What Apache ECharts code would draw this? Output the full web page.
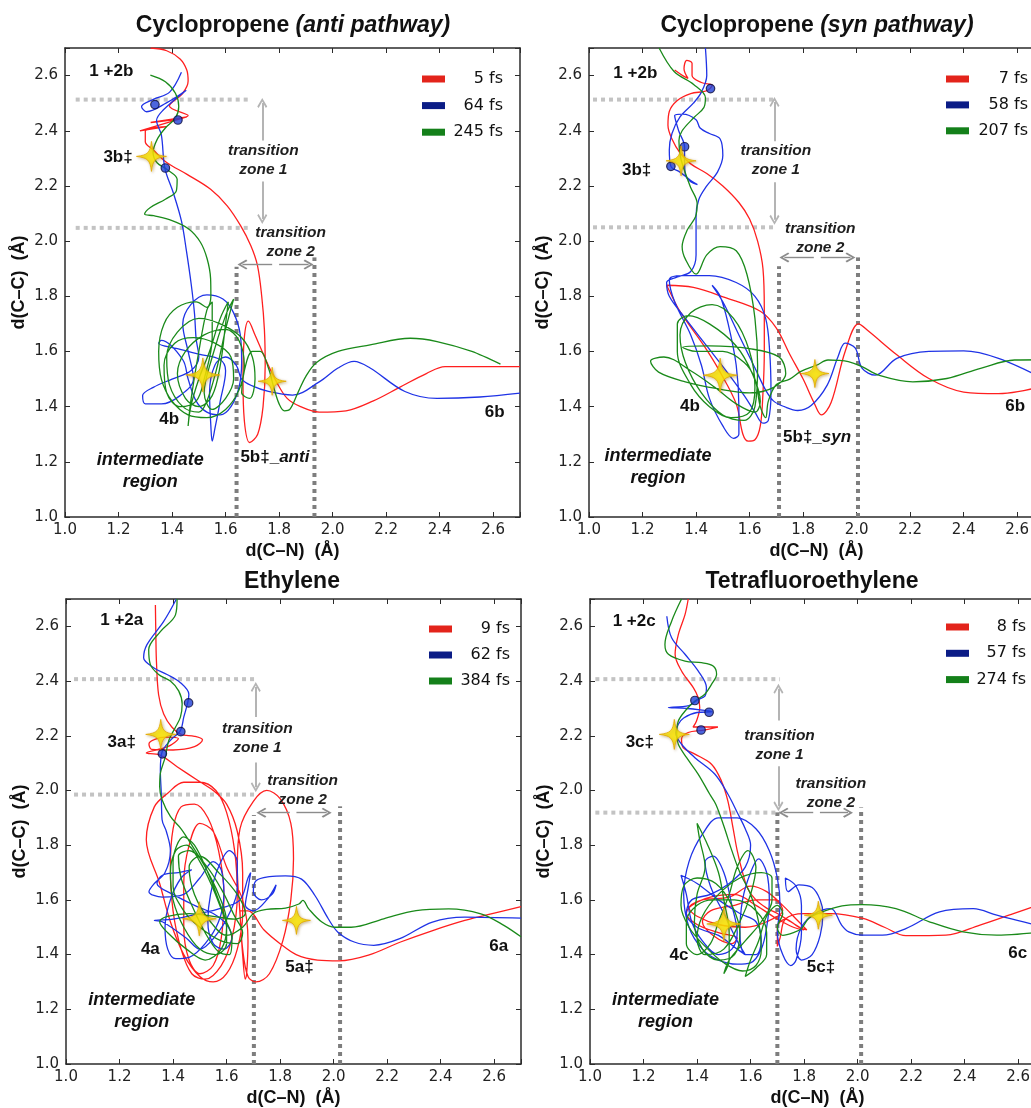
<!DOCTYPE html>
<html><head><meta charset="utf-8">
<script src="https://cdn.jsdelivr.net/npm/echarts@6/dist/echarts.min.js"></script>
<style>html,body{margin:0;padding:0;background:#fff;overflow:hidden}#c{width:1050px;height:1108px}</style>
</head><body><div id="c"></div>
<script>
// ---------------- DATA ----------------
// Cyclopropene (anti pathway)
const antiNames = ['5 fs', '64 fs', '245 fs'];
const antiRed = [[1.32,2.70],[1.38,2.69],[1.43,2.66],[1.455,2.62],[1.46,2.58],[1.44,2.536],[1.39,2.49],[1.46,2.455],[1.32,2.43],[1.455,2.45],[1.28,2.40],[1.38,2.415],[1.30,2.398],[1.30,2.36],[1.33,2.33],[1.38,2.285],[1.456,2.242],[1.544,2.188],[1.606,2.128],[1.656,2.056],[1.694,1.984],[1.719,1.912],[1.735,1.80],[1.745,1.68],[1.748,1.55],[1.74,1.40],[1.72,1.30],[1.69,1.27],[1.67,1.35],[1.665,1.50],[1.67,1.65],[1.685,1.71],[1.71,1.66],[1.75,1.57],[1.79,1.49],[1.83,1.43],[1.88,1.40],[1.95,1.38],[2.05,1.385],[2.15,1.42],[2.25,1.47],[2.35,1.52],[2.42,1.545],[2.55,1.545],[2.70,1.545]];
const antiBlue = [[1.435,2.612],[1.391,2.54],[1.33,2.514],[1.286,2.488],[1.305,2.469],[1.379,2.501],[1.453,2.547],[1.367,2.475],[1.342,2.437],[1.36,2.385],[1.373,2.265],[1.404,2.177],[1.435,2.073],[1.453,1.969],[1.472,1.84],[1.484,1.736],[1.49,1.645],[1.50,1.58],[1.47,1.53],[1.40,1.50],[1.33,1.47],[1.29,1.44],[1.30,1.41],[1.36,1.41],[1.43,1.44],[1.48,1.50],[1.46,1.60],[1.44,1.70],[1.47,1.77],[1.53,1.805],[1.59,1.79],[1.63,1.74],[1.655,1.66],[1.66,1.56],[1.65,1.47],[1.62,1.40],[1.58,1.37],[1.53,1.38],[1.49,1.42],[1.46,1.50],[1.44,1.57],[1.36,1.64],[1.35,1.63],[1.42,1.61],[1.50,1.59],[1.58,1.57],[1.60,1.53],[1.58,1.42],[1.56,1.32],[1.55,1.275],[1.545,1.33],[1.54,1.45],[1.56,1.55],[1.60,1.58],[1.64,1.55],[1.66,1.50],[1.70,1.475],[1.76,1.455],[1.85,1.442],[1.95,1.49],[2.02,1.54],[2.08,1.564],[2.14,1.54],[2.27,1.455],[2.39,1.43],[2.55,1.435],[2.70,1.449]];
const antiGreen = [[1.319,2.602],[1.375,2.578],[1.4125,2.536],[1.425,2.488],[1.4125,2.446],[1.375,2.41],[1.344,2.368],[1.329,2.32],[1.344,2.284],[1.381,2.26],[1.419,2.224],[1.416,2.182],[1.375,2.152],[1.319,2.122],[1.2975,2.098],[1.331,2.092],[1.40,2.074],[1.4625,2.044],[1.506,1.996],[1.531,1.936],[1.544,1.864],[1.545,1.80],[1.53,1.76],[1.49,1.78],[1.42,1.76],[1.37,1.70],[1.35,1.60],[1.36,1.50],[1.40,1.42],[1.46,1.37],[1.53,1.36],[1.60,1.39],[1.65,1.46],[1.67,1.55],[1.65,1.64],[1.60,1.68],[1.52,1.66],[1.45,1.60],[1.42,1.52],[1.45,1.43],[1.50,1.40],[1.55,1.44],[1.58,1.55],[1.60,1.70],[1.61,1.78],[1.58,1.72],[1.54,1.60],[1.50,1.50],[1.47,1.40],[1.46,1.33],[1.47,1.42],[1.50,1.60],[1.53,1.75],[1.55,1.78],[1.55,1.65],[1.52,1.50],[1.49,1.42],[1.43,1.40],[1.38,1.45],[1.37,1.55],[1.41,1.63],[1.48,1.65],[1.56,1.63],[1.62,1.58],[1.63,1.50],[1.60,1.43],[1.55,1.39],[1.52,1.45],[1.55,1.58],[1.60,1.73],[1.63,1.79],[1.60,1.68],[1.57,1.55],[1.53,1.42],[1.50,1.38],[1.44,1.40],[1.39,1.48],[1.38,1.58],[1.42,1.67],[1.50,1.72],[1.58,1.70],[1.66,1.65],[1.70,1.58],[1.71,1.50],[1.69,1.43],[1.66,1.45],[1.67,1.53],[1.70,1.60],[1.73,1.60],[1.76,1.54],[1.78,1.47],[1.80,1.41],[1.82,1.385],[1.84,1.39],[1.87,1.45],[1.90,1.51],[1.94,1.56],[2.02,1.60],[2.14,1.624],[2.29,1.648],[2.39,1.636],[2.52,1.60],[2.627,1.554]];
const antiStars = [[1.323,2.307,30],[1.515,1.515,34],[1.774,1.492,28]];
const antiDots = [[1.336,2.495],[1.422,2.439],[1.375,2.265]];
const antiLabels = [[1.175,2.614,'{b|1 +2b}'],[1.20,2.303,'{b|3b‡}'],[1.743,2.29,'{t|transition}\n{t|zone 1}'],[1.845,1.995,'{t|transition}\n{t|zone 2}'],[1.391,1.353,'{b|4b}'],[1.786,1.214,'{b|5b‡_}{bi|anti}'],[2.607,1.379,'{b|6b}'],[1.32,1.165,'{r|intermediate}\n{r|region}']];
const antiArrows = [[1.737,2.365,1.737,2.501,1],[1.737,2.216,1.737,2.08,1],[1.774,1.915,1.663,1.915,2],[1.80,1.915,1.91,1.915,2]];
const antiH = [[2.513,1.04,1.69],[2.048,1.04,1.69]];
const antiV = [[1.641,1.907],[1.932,1.941]];

// Cyclopropene (syn pathway)
const synNames = ['7 fs', '58 fs', '207 fs'];
const synRed = [[1.32,2.62],[1.35,2.60],[1.37,2.59],[1.355,2.625],[1.365,2.655],[1.385,2.645],[1.385,2.60],[1.42,2.575],[1.46,2.565],[1.44,2.545],[1.38,2.535],[1.33,2.51],[1.30,2.47],[1.295,2.42],[1.31,2.37],[1.34,2.32],[1.38,2.28],[1.44,2.245],[1.50,2.20],[1.56,2.14],[1.60,2.08],[1.63,2.00],[1.65,1.90],[1.655,1.75],[1.655,1.60],[1.65,1.45],[1.64,1.33],[1.62,1.28],[1.595,1.275],[1.575,1.30],[1.55,1.41],[1.49,1.525],[1.43,1.62],[1.34,1.745],[1.30,1.82],[1.29,1.84],[1.39,1.832],[1.51,1.795],[1.64,1.746],[1.70,1.685],[1.75,1.59],[1.80,1.50],[1.84,1.416],[1.868,1.37],[1.905,1.416],[1.957,1.60],[2.007,1.70],[2.045,1.673],[2.15,1.588],[2.27,1.502],[2.40,1.453],[2.53,1.447],[2.70,1.475]];
const synBlue = [[1.435,2.70],[1.44,2.60],[1.42,2.54],[1.39,2.50],[1.34,2.45],[1.31,2.39],[1.30,2.33],[1.306,2.271],[1.34,2.25],[1.38,2.22],[1.405,2.205],[1.38,2.215],[1.36,2.24],[1.357,2.30],[1.357,2.342],[1.335,2.40],[1.32,2.455],[1.35,2.46],[1.40,2.44],[1.415,2.41],[1.45,2.39],[1.49,2.37],[1.50,2.31],[1.48,2.25],[1.44,2.20],[1.41,2.15],[1.40,2.09],[1.40,2.00],[1.40,1.95],[1.38,1.89],[1.33,1.87],[1.29,1.85],[1.30,1.80],[1.36,1.72],[1.44,1.62],[1.52,1.52],[1.58,1.44],[1.62,1.38],[1.65,1.34],[1.67,1.35],[1.68,1.45],[1.675,1.60],[1.66,1.72],[1.62,1.80],[1.55,1.85],[1.45,1.875],[1.35,1.875],[1.30,1.86],[1.32,1.78],[1.38,1.66],[1.42,1.55],[1.45,1.43],[1.50,1.33],[1.54,1.285],[1.56,1.30],[1.56,1.40],[1.55,1.55],[1.52,1.70],[1.49,1.80],[1.46,1.84],[1.50,1.78],[1.56,1.66],[1.62,1.54],[1.66,1.46],[1.69,1.42],[1.73,1.40],[1.78,1.386],[1.83,1.404],[1.89,1.478],[1.93,1.58],[1.957,1.63],[1.995,1.612],[2.02,1.54],[2.07,1.514],[2.15,1.575],[2.27,1.60],[2.40,1.602],[2.53,1.575],[2.70,1.50]];
const synGreen = [[1.262,2.70],[1.318,2.615],[1.392,2.567],[1.435,2.52],[1.429,2.484],[1.392,2.448],[1.348,2.40],[1.336,2.364],[1.342,2.304],[1.361,2.244],[1.379,2.196],[1.404,2.136],[1.398,2.088],[1.367,2.04],[1.348,1.98],[1.361,1.933],[1.40,1.88],[1.44,1.95],[1.49,1.98],[1.55,1.965],[1.59,1.88],[1.62,1.72],[1.63,1.55],[1.62,1.40],[1.58,1.35],[1.50,1.37],[1.42,1.45],[1.36,1.56],[1.34,1.66],[1.38,1.74],[1.46,1.77],[1.54,1.72],[1.60,1.60],[1.62,1.47],[1.60,1.38],[1.53,1.36],[1.45,1.40],[1.38,1.48],[1.33,1.60],[1.33,1.70],[1.37,1.73],[1.45,1.70],[1.55,1.62],[1.61,1.52],[1.64,1.42],[1.62,1.38],[1.55,1.41],[1.47,1.47],[1.38,1.53],[1.28,1.58],[1.23,1.565],[1.26,1.525],[1.36,1.49],[1.48,1.465],[1.60,1.45],[1.69,1.47],[1.735,1.52],[1.71,1.58],[1.60,1.61],[1.45,1.62],[1.35,1.615],[1.40,1.60],[1.50,1.60],[1.58,1.56],[1.62,1.50],[1.64,1.40],[1.66,1.36],[1.67,1.42],[1.70,1.48],[1.75,1.50],[1.79,1.527],[1.85,1.55],[1.893,1.569],[1.93,1.568],[1.969,1.563],[2.02,1.545],[2.083,1.514],[2.21,1.49],[2.337,1.502],[2.463,1.539],[2.59,1.569],[2.70,1.57]];
const synStars = [[1.344,2.291,30],[1.49,1.514,34],[1.844,1.52,28]];
const synDots = [[1.454,2.553],[1.357,2.342],[1.306,2.271]];
const synLabels = [[1.175,2.608,'{b|1 +2b}'],[1.18,2.254,'{b|3b‡}'],[1.70,2.292,'{t|transition}\n{t|zone 1}'],[1.866,2.008,'{t|transition}\n{t|zone 2}'],[1.379,1.40,'{b|4b}'],[1.854,1.287,'{b|5b‡_}{bi|syn}'],[2.594,1.40,'{b|6b}'],[1.26,1.178,'{r|intermediate}\n{r|region}']];
const synArrows = [[1.693,2.362,1.693,2.504,1],[1.693,2.213,1.693,2.077,1],[1.84,1.941,1.73,1.941,2],[1.866,1.941,1.977,1.941,2]];
const synH = [[2.513,1.015,1.69],[2.05,1.015,1.69]];
const synV = [[1.71,1.909],[2.005,1.941]];

// Ethylene
const ethNames = ['9 fs', '62 fs', '384 fs'];
const ethRed = [[1.334,2.678],[1.336,2.55],[1.338,2.47],[1.346,2.35],[1.365,2.28],[1.396,2.231],[1.43,2.205],[1.48,2.198],[1.51,2.185],[1.48,2.16],[1.40,2.148],[1.32,2.15],[1.31,2.17],[1.37,2.195],[1.42,2.19],[1.38,2.16],[1.30,2.137],[1.35,2.13],[1.415,2.087],[1.49,2.038],[1.55,2.00],[1.60,1.95],[1.64,1.85],[1.66,1.70],[1.66,1.55],[1.64,1.42],[1.60,1.33],[1.55,1.30],[1.50,1.32],[1.44,1.40],[1.39,1.52],[1.35,1.66],[1.30,1.82],[1.33,1.94],[1.38,1.99],[1.44,2.03],[1.50,2.03],[1.56,2.00],[1.60,1.92],[1.63,1.78],[1.64,1.62],[1.62,1.46],[1.58,1.36],[1.52,1.31],[1.47,1.33],[1.43,1.42],[1.40,1.56],[1.39,1.72],[1.40,1.86],[1.43,1.94],[1.48,1.95],[1.53,1.90],[1.57,1.78],[1.59,1.62],[1.58,1.46],[1.55,1.36],[1.50,1.33],[1.46,1.38],[1.44,1.50],[1.44,1.66],[1.46,1.80],[1.50,1.88],[1.55,1.85],[1.60,1.72],[1.66,1.60],[1.68,1.45],[1.675,1.33],[1.67,1.31],[1.66,1.40],[1.65,1.55],[1.64,1.72],[1.65,1.86],[1.70,1.96],[1.75,2.00],[1.80,1.97],[1.84,1.88],[1.85,1.75],[1.84,1.60],[1.81,1.45],[1.76,1.33],[1.71,1.30],[1.68,1.32],[1.66,1.42],[1.65,1.56],[1.68,1.56],[1.74,1.49],[1.80,1.44],[1.86,1.40],[1.94,1.38],[2.02,1.377],[2.13,1.398],[2.25,1.446],[2.37,1.488],[2.49,1.525],[2.60,1.552],[2.70,1.575]];
const ethBlue = [[1.4125,2.70],[1.365,2.618],[1.3025,2.533],[1.29,2.485],[1.3275,2.449],[1.3775,2.424],[1.4275,2.394],[1.459,2.352],[1.455,2.322],[1.44,2.268],[1.4275,2.219],[1.39,2.183],[1.359,2.141],[1.3525,2.074],[1.356,1.99],[1.359,1.893],[1.375,1.85],[1.39,1.78],[1.37,1.70],[1.33,1.66],[1.31,1.63],[1.36,1.61],[1.44,1.62],[1.50,1.68],[1.55,1.74],[1.58,1.71],[1.59,1.62],[1.57,1.52],[1.52,1.44],[1.46,1.39],[1.41,1.385],[1.38,1.42],[1.37,1.50],[1.39,1.60],[1.43,1.68],[1.47,1.71],[1.42,1.70],[1.36,1.69],[1.34,1.66],[1.40,1.62],[1.48,1.58],[1.55,1.55],[1.60,1.51],[1.62,1.46],[1.59,1.42],[1.55,1.44],[1.53,1.52],[1.54,1.62],[1.57,1.72],[1.61,1.78],[1.64,1.74],[1.64,1.64],[1.61,1.55],[1.56,1.47],[1.50,1.42],[1.45,1.46],[1.36,1.52],[1.33,1.525],[1.40,1.53],[1.50,1.55],[1.58,1.57],[1.65,1.60],[1.68,1.68],[1.69,1.70],[1.68,1.64],[1.67,1.58],[1.70,1.56],[1.75,1.60],[1.785,1.655],[1.77,1.62],[1.73,1.60],[1.70,1.63],[1.71,1.67],[1.76,1.685],[1.82,1.688],[1.88,1.676],[1.93,1.616],[1.98,1.531],[2.016,1.482],[2.077,1.446],[2.15,1.434],[2.247,1.458],[2.369,1.519],[2.49,1.537],[2.70,1.533]];
const ethGreen = [[1.415,2.70],[1.409,2.642],[1.3525,2.581],[1.309,2.515],[1.315,2.461],[1.346,2.424],[1.39,2.40],[1.421,2.364],[1.434,2.316],[1.4275,2.268],[1.409,2.231],[1.384,2.183],[1.371,2.123],[1.3525,2.062],[1.35,2.014],[1.359,1.966],[1.39,1.905],[1.43,1.86],[1.47,1.80],[1.52,1.72],[1.57,1.62],[1.60,1.52],[1.60,1.44],[1.56,1.40],[1.50,1.42],[1.44,1.50],[1.40,1.60],[1.39,1.70],[1.41,1.78],[1.45,1.80],[1.50,1.74],[1.55,1.64],[1.59,1.54],[1.62,1.46],[1.61,1.40],[1.57,1.41],[1.52,1.48],[1.47,1.58],[1.43,1.68],[1.42,1.76],[1.46,1.78],[1.52,1.73],[1.58,1.64],[1.63,1.54],[1.66,1.48],[1.64,1.44],[1.58,1.45],[1.50,1.50],[1.44,1.56],[1.40,1.65],[1.40,1.74],[1.44,1.83],[1.48,1.80],[1.53,1.70],[1.57,1.60],[1.60,1.50],[1.58,1.42],[1.52,1.38],[1.45,1.42],[1.38,1.48],[1.35,1.52],[1.38,1.54],[1.46,1.55],[1.55,1.54],[1.63,1.53],[1.67,1.55],[1.64,1.62],[1.57,1.70],[1.50,1.76],[1.46,1.72],[1.48,1.62],[1.54,1.52],[1.60,1.47],[1.66,1.50],[1.70,1.55],[1.75,1.565],[1.82,1.57],[1.87,1.585],[1.885,1.598],[1.907,1.567],[1.956,1.519],[2.004,1.50],[2.065,1.50],[2.187,1.531],[2.308,1.561],[2.43,1.567],[2.55,1.549],[2.636,1.507],[2.70,1.465]];
const ethStars = [[1.354,2.205,30],[1.498,1.531,34],[1.861,1.525,28]];
const ethDots = [[1.458,2.32],[1.429,2.215],[1.36,2.134]];
const ethLabels = [[1.21,2.622,'{b|1 +2a}'],[1.21,2.173,'{b|3a‡}'],[1.717,2.188,'{t|transition}\n{t|zone 1}'],[1.886,2.0,'{t|transition}\n{t|zone 2}'],[1.317,1.416,'{b|4a}'],[1.874,1.352,'{b|5a‡}'],[2.619,1.429,'{b|6a}'],[1.285,1.19,'{r|intermediate}\n{r|region}']];
const ethArrows = [[1.709,2.269,1.709,2.378,1],[1.709,2.102,1.709,2.012,1],[1.836,1.919,1.73,1.919,2],[1.861,1.919,1.974,1.919,2]];
const ethH = [[2.407,1.03,1.71],[1.985,1.03,1.71]];
const ethV = [[1.702,1.91],[2.024,1.942]];

// Tetrafluoroethylene
const tfeNames = ['8 fs', '57 fs', '274 fs'];
const tfeRed = [[1.367,2.70],[1.355,2.643],[1.33,2.57],[1.318,2.498],[1.342,2.437],[1.386,2.376],[1.404,2.34],[1.41,2.303],[1.398,2.254],[1.385,2.232],[1.43,2.232],[1.478,2.232],[1.42,2.22],[1.367,2.212],[1.342,2.188],[1.348,2.157],[1.392,2.133],[1.454,2.096],[1.491,2.035],[1.515,1.962],[1.534,1.865],[1.55,1.78],[1.57,1.70],[1.59,1.64],[1.62,1.60],[1.66,1.57],[1.70,1.55],[1.75,1.52],[1.80,1.49],[1.76,1.50],[1.70,1.53],[1.62,1.58],[1.54,1.62],[1.45,1.61],[1.38,1.58],[1.36,1.55],[1.40,1.51],[1.48,1.48],[1.55,1.46],[1.53,1.44],[1.46,1.47],[1.42,1.52],[1.45,1.56],[1.54,1.58],[1.62,1.60],[1.69,1.60],[1.72,1.56],[1.66,1.52],[1.58,1.50],[1.48,1.51],[1.40,1.54],[1.37,1.57],[1.42,1.60],[1.52,1.61],[1.60,1.65],[1.66,1.63],[1.72,1.58],[1.77,1.53],[1.81,1.49],[1.78,1.50],[1.73,1.53],[1.70,1.50],[1.70,1.43],[1.71,1.46],[1.73,1.53],[1.80,1.55],[1.90,1.55],[2.02,1.532],[2.10,1.50],[2.18,1.469],[2.33,1.471],[2.457,1.508],[2.582,1.55],[2.70,1.59]];
const tfeBlue = [[1.287,2.637],[1.305,2.558],[1.355,2.498],[1.404,2.437],[1.435,2.376],[1.43,2.346],[1.40,2.33],[1.37,2.31],[1.293,2.303],[1.36,2.30],[1.455,2.288],[1.40,2.285],[1.35,2.265],[1.33,2.242],[1.32,2.21],[1.342,2.169],[1.392,2.12],[1.466,2.06],[1.515,1.987],[1.553,1.914],[1.58,1.86],[1.60,1.80],[1.58,1.72],[1.52,1.66],[1.45,1.62],[1.38,1.60],[1.36,1.55],[1.40,1.50],[1.48,1.47],[1.55,1.42],[1.58,1.40],[1.55,1.45],[1.50,1.55],[1.45,1.65],[1.43,1.74],[1.46,1.76],[1.50,1.70],[1.53,1.58],[1.55,1.48],[1.53,1.42],[1.48,1.40],[1.42,1.45],[1.38,1.52],[1.36,1.62],[1.34,1.69],[1.40,1.66],[1.48,1.60],[1.56,1.55],[1.62,1.52],[1.64,1.45],[1.62,1.40],[1.58,1.40],[1.56,1.48],[1.57,1.60],[1.60,1.70],[1.63,1.75],[1.66,1.70],[1.67,1.60],[1.66,1.50],[1.64,1.42],[1.60,1.37],[1.55,1.365],[1.48,1.38],[1.42,1.42],[1.37,1.50],[1.35,1.62],[1.37,1.74],[1.42,1.84],[1.48,1.90],[1.55,1.90],[1.62,1.86],[1.67,1.78],[1.70,1.68],[1.71,1.58],[1.70,1.48],[1.72,1.40],[1.75,1.36],[1.77,1.38],[1.79,1.48],[1.79,1.58],[1.77,1.65],[1.73,1.68],[1.74,1.63],[1.78,1.655],[1.83,1.645],[1.86,1.60],[1.87,1.55],[1.86,1.47],[1.83,1.40],[1.79,1.38],[1.77,1.42],[1.79,1.50],[1.84,1.55],[1.90,1.568],[1.94,1.508],[1.967,1.483],[2.017,1.471],[2.093,1.471],[2.18,1.495],[2.306,1.556],[2.432,1.568],[2.52,1.544],[2.70,1.50]];
const tfeGreen = [[1.342,2.70],[1.305,2.619],[1.28,2.534],[1.293,2.498],[1.355,2.473],[1.417,2.467],[1.46,2.455],[1.473,2.425],[1.454,2.388],[1.429,2.352],[1.392,2.327],[1.361,2.297],[1.33,2.254],[1.324,2.206],[1.33,2.169],[1.361,2.12],[1.404,2.06],[1.447,1.987],[1.47,1.95],[1.50,1.87],[1.53,1.78],[1.56,1.70],[1.60,1.62],[1.63,1.52],[1.64,1.42],[1.62,1.36],[1.57,1.34],[1.50,1.37],[1.43,1.43],[1.37,1.50],[1.34,1.58],[1.35,1.65],[1.40,1.68],[1.47,1.66],[1.53,1.58],[1.56,1.48],[1.54,1.40],[1.48,1.38],[1.42,1.42],[1.39,1.52],[1.40,1.62],[1.43,1.72],[1.41,1.82],[1.40,1.88],[1.44,1.80],[1.48,1.70],[1.50,1.60],[1.52,1.48],[1.52,1.38],[1.50,1.33],[1.52,1.38],[1.58,1.45],[1.64,1.52],[1.68,1.60],[1.68,1.68],[1.64,1.70],[1.56,1.68],[1.48,1.62],[1.42,1.54],[1.40,1.46],[1.43,1.40],[1.50,1.42],[1.56,1.52],[1.60,1.62],[1.62,1.72],[1.59,1.78],[1.55,1.72],[1.52,1.62],[1.48,1.52],[1.45,1.44],[1.40,1.40],[1.36,1.44],[1.36,1.52],[1.40,1.58],[1.46,1.60],[1.54,1.60],[1.62,1.56],[1.66,1.48],[1.66,1.40],[1.62,1.35],[1.58,1.32],[1.60,1.38],[1.63,1.45],[1.66,1.54],[1.70,1.58],[1.72,1.55],[1.70,1.50],[1.72,1.47],[1.76,1.48],[1.79,1.495],[1.817,1.532],[1.867,1.556],[1.942,1.578],[2.017,1.583],[2.143,1.568],[2.268,1.52],[2.394,1.483],[2.52,1.471],[2.70,1.485]];
const tfeStars = [[1.315,2.205,30],[1.50,1.512,34],[1.853,1.544,28]];
const tfeDots = [[1.392,2.329],[1.445,2.286],[1.415,2.221]];
const tfeLabels = [[1.167,2.615,'{b|1 +2c}'],[1.188,2.173,'{b|3c‡}'],[1.71,2.163,'{t|transition}\n{t|zone 1}'],[1.902,1.987,'{t|transition}\n{t|zone 2}'],[1.334,1.396,'{b|4c}'],[1.865,1.352,'{b|5c‡}'],[2.60,1.403,'{b|6c}'],[1.284,1.19,'{r|intermediate}\n{r|region}']];
const tfeArrows = [[1.704,2.256,1.704,2.372,1],[1.704,2.089,1.704,1.942,1],[1.834,1.919,1.723,1.919,2],[1.859,1.919,1.964,1.919,2]];
const tfeH = [[2.407,1.02,1.71],[1.919,1.02,1.71]];
const tfeV = [[1.70,1.92],[2.013,1.938]];

// ---------------- STYLE / LAYOUT ----------------
const TICK_FONT = "'DejaVu Sans', sans-serif";
const BOLD_FONT = "'Liberation Sans', Arial, sans-serif";
const LINE_COLORS = ['#ff1f1f', '#1f33e6', '#1a8a1a'];
const LEGEND_COLORS = ['#e3241b', '#0b1c86', '#14801a'];
const STAR = 'path://M0,-10 C0.9,-2.4 2.4,-0.9 10,0 C2.4,0.9 0.9,2.4 0,10 C-0.9,2.4 -2.4,0.9 -10,0 C-2.4,-0.9 -0.9,-2.4 0,-10 Z';
const CHEVRON = 'path://M5,0 L10,8 L8.6,9.2 L5,3.2 L1.4,9.2 L0,8 Z';

const panels = [
  {grid:{left:65,top:48,width:455,height:469}, title:'{b|Cyclopropene }{i|(anti pathway)}', tx:288, ty:9,
   names:antiNames, lines:[antiRed,antiBlue,antiGreen], stars:antiStars, dots:antiDots, labels:antiLabels, arrows:antiArrows, H:antiH, V:antiV,
   lg:{left:417, top:66, w:53, gap:10.6}},
  {grid:{left:589,top:48,width:455,height:469}, title:'{b|Cyclopropene }{i|(syn pathway)}', tx:812, ty:9,
   names:synNames, lines:[synRed,synBlue,synGreen], stars:synStars, dots:synDots, labels:synLabels, arrows:synArrows, H:synH, V:synV,
   lg:{left:941, top:66, w:54, gap:9.9}},
  {grid:{left:66,top:599,width:455,height:467}, title:'{b|Ethylene}', tx:287, ty:565,
   names:ethNames, lines:[ethRed,ethBlue,ethGreen], stars:ethStars, dots:ethDots, labels:ethLabels, arrows:ethArrows, H:ethH, V:ethV,
   lg:{left:424, top:616, w:53, gap:10}},
  {grid:{left:590,top:599,width:455,height:467}, title:'{b|Tetrafluoroethylene}', tx:807, ty:565,
   names:tfeNames, lines:[tfeRed,tfeBlue,tfeGreen], stars:tfeStars, dots:tfeDots, labels:tfeLabels, arrows:tfeArrows, H:tfeH, V:tfeV,
   lg:{left:941, top:614, w:52, gap:10.3}}
];

const fmt = v => (v > 2.65 ? '' : v.toFixed(1));
function axis(i, pos, isX) {
  const main = (pos === 'bottom' || pos === 'left');
  const a = {
    gridIndex: i, type: 'value', position: pos, min: 1.0, max: 2.7, interval: 0.2,
    axisLine: {show: true, onZero: false, lineStyle: {color: '#2b2b2b', width: 1.5}},
    axisTick: {show: true, inside: true, length: 5, lineStyle: {color: '#2b2b2b', width: 1}},
    splitLine: {show: false},
    axisLabel: {show: main, formatter: fmt, fontFamily: TICK_FONT, fontSize: 15, color: '#222', margin: isX ? 6 : 7}
  };
  if (main) {
    a.name = isX ? 'd(C–N)  (Å)' : 'd(C–C)  (Å)';
    a.nameLocation = 'middle';
    a.nameGap = isX ? 25 : 37;
    a.nameTextStyle = {fontFamily: BOLD_FONT, fontWeight: 'bold', fontSize: 18, color: '#111'};
  }
  return a;
}

const option = {
  animation: false,
  backgroundColor: '#ffffff',
  title: [], grid: [], xAxis: [], yAxis: [], legend: [], series: []
};

panels.forEach((p, i) => {
  option.grid.push(Object.assign({containLabel: false}, p.grid));
  option.xAxis.push(axis(i, 'bottom', true), axis(i, 'top', true));
  option.yAxis.push(axis(i, 'left', false), axis(i, 'right', false));
  option.title.push({
    text: p.title, left: p.tx, top: p.ty, textAlign: 'center',
    textStyle: {rich: {
      b: {fontFamily: BOLD_FONT, fontWeight: 'bold', fontSize: 23, color: '#111'},
      i: {fontFamily: BOLD_FONT, fontStyle: 'italic', fontSize: 23, color: '#111'}
    }}
  });
  option.legend.push({
    orient: 'vertical', left: p.lg.left, top: p.lg.top, itemGap: p.lg.gap,
    itemWidth: 23, itemHeight: 7, icon: 'rect', selectedMode: false,
    data: p.names.map((n, k) => ({name: n, itemStyle: {color: LEGEND_COLORS[k]}})),
    formatter: '{n|{name}}',
    textStyle: {rich: {n: {width: p.lg.w, align: 'right', fontFamily: TICK_FONT, fontSize: 16, lineHeight: 20, color: '#111'}}}
  });
  const xi = 2 * i, yi = 2 * i;
  p.H.forEach((h, k) => {
    const s = {
      type: 'line', xAxisIndex: xi, yAxisIndex: yi, silent: true, symbol: 'none', z: 1,
      data: [[h[1], h[0]], [h[2], h[0]]],
      lineStyle: {color: '#c3c3c3', width: 4, type: [4, 4]}
    };
    if (k === 0) {
      s.markLine = {
        silent: true, symbol: ['none', CHEVRON], symbolSize: [10, 10], label: {show: false},
        lineStyle: {type: 'solid'},
        data: p.arrows.map(a => [
          {coord: [a[0], a[1]], lineStyle: a[4] === 1 ? {color: '#b4b4b4', width: 2, type: 'solid'} : {color: '#8c8c8c', width: 1.4, type: 'solid'}},
          {coord: [a[2], a[3]]}
        ])
      };
    }
    option.series.push(s);
  });
  p.V.forEach(v => {
    option.series.push({
      type: 'line', xAxisIndex: xi, yAxisIndex: yi, silent: true, symbol: 'none', z: 1,
      data: [[v[0], 1.0], [v[0], v[1]]],
      lineStyle: {color: '#7e7e7e', width: 4, type: [4, 4]}
    });
  });
  p.lines.forEach((d, k) => {
    option.series.push({
      name: p.names[k], type: 'line', xAxisIndex: xi, yAxisIndex: yi, data: d,
      showSymbol: false, symbol: 'none', smooth: 0.35, z: 3 + k,
      lineStyle: {color: LINE_COLORS[k], width: 1.3}, itemStyle: {color: LINE_COLORS[k]}
    });
  });
  option.series.push({
    type: 'scatter', xAxisIndex: xi, yAxisIndex: yi, data: p.dots, symbolSize: 8.5, z: 8, silent: true,
    itemStyle: {color: '#1f3fd6', borderColor: '#0a0a3a', borderWidth: 1.2}
  });
  option.series.push({
    type: 'scatter', xAxisIndex: xi, yAxisIndex: yi, data: p.stars, symbol: STAR,
    symbolSize: v => v[2], z: 9, silent: true,
    itemStyle: {color: '#ffea00', borderColor: '#e3a900', borderWidth: 1, shadowColor: 'rgba(140,100,0,0.5)', shadowBlur: 3, shadowOffsetX: 1, shadowOffsetY: 1}
  });
  option.series.push({
    type: 'scatter', xAxisIndex: xi, yAxisIndex: yi, data: p.labels, symbolSize: 1, z: 10, silent: true,
    itemStyle: {color: 'rgba(0,0,0,0)'},
    label: {
      show: true, position: [0, 0], align: 'center', verticalAlign: 'middle',
      color: '#111', opacity: 1, textBorderWidth: 0,
      formatter: prm => prm.data[2],
      rich: {
        b: {fontFamily: BOLD_FONT, fontWeight: 'bold', fontSize: 17, color: '#111'},
        bi: {fontFamily: BOLD_FONT, fontWeight: 'bold', fontStyle: 'italic', fontSize: 17, color: '#111'},
        t: {fontFamily: BOLD_FONT, fontWeight: 'bold', fontStyle: 'italic', fontSize: 15.5, lineHeight: 19, color: '#1e1e1e', align: 'center'},
        r: {fontFamily: BOLD_FONT, fontWeight: 'bold', fontStyle: 'italic', fontSize: 18, lineHeight: 22, color: '#111', align: 'center'}
      }
    }
  });
});

const chart = echarts.init(document.getElementById('c'), null, {renderer: 'canvas'});
chart.setOption(option);
</script>
</body></html>
